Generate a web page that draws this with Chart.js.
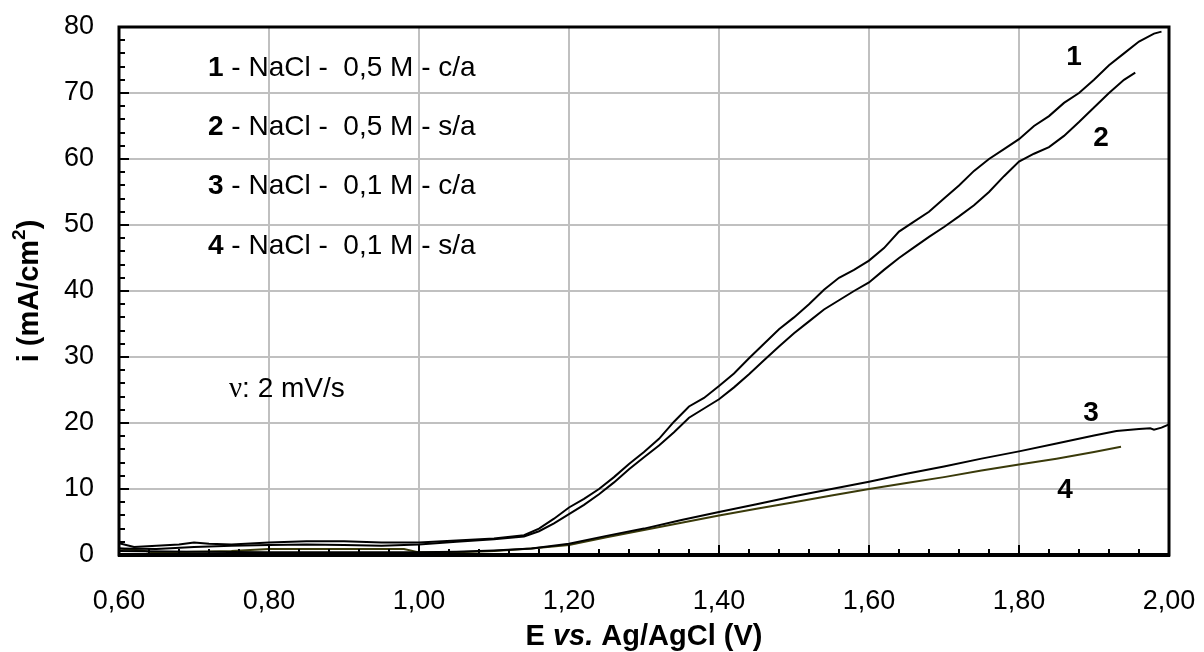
<!DOCTYPE html>
<html>
<head>
<meta charset="utf-8">
<title>Polarization curves - NaCl</title>
<script src="https://cdn.jsdelivr.net/npm/chart.js@4/dist/chart.umd.min.js"></script>
<style>
    html, body { margin: 0; padding: 0; background: #ffffff; }
    #wrap { width: 1204px; height: 652px; }
</style>
</head>
<body>
<div id="wrap"><canvas id="polChart" width="1204" height="652"></canvas></div>
<script>
// Potential (V) and current density (mA/cm2) for each run
const e1 = [0.60, 0.62, 0.65, 0.68, 0.70, 0.72, 0.75, 0.80, 0.85, 0.90, 0.95, 1.00, 1.05, 1.10, 1.14, 1.16, 1.18, 1.20, 1.22, 1.24, 1.26, 1.28, 1.30, 1.32, 1.34, 1.36, 1.38, 1.40, 1.42, 1.44, 1.46, 1.48, 1.50, 1.52, 1.54, 1.56, 1.58, 1.60, 1.62, 1.64, 1.66, 1.68, 1.70, 1.72, 1.74, 1.76, 1.78, 1.80, 1.82, 1.84, 1.86, 1.88, 1.90, 1.92, 1.94, 1.96, 1.98, 1.99];
const i1 = [1.8, 1.2, 1.4, 1.6, 1.9, 1.7, 1.6, 1.9, 2.1, 2.1, 1.9, 1.9, 2.2, 2.5, 3.0, 4.0, 5.5, 7.2, 8.5, 10.0, 11.8, 13.8, 15.6, 17.6, 20.2, 22.5, 23.8, 25.6, 27.5, 29.8, 32.0, 34.2, 36.0, 38.0, 40.2, 42.0, 43.2, 44.6, 46.5, 49.0, 50.5, 52.0, 54.0, 56.0, 58.2, 60.0, 61.5, 63.0, 65.0, 66.5, 68.5, 70.0, 72.0, 74.2, 76.0, 77.8, 79.0, 79.3];

const e2 = [0.60, 0.65, 0.70, 0.75, 0.80, 0.85, 0.90, 0.95, 1.00, 1.05, 1.10, 1.14, 1.16, 1.18, 1.20, 1.22, 1.24, 1.26, 1.28, 1.30, 1.32, 1.34, 1.36, 1.38, 1.40, 1.42, 1.44, 1.46, 1.48, 1.50, 1.52, 1.54, 1.56, 1.58, 1.60, 1.62, 1.64, 1.66, 1.68, 1.70, 1.72, 1.74, 1.76, 1.78, 1.80, 1.82, 1.84, 1.86, 1.88, 1.90, 1.92, 1.94, 1.955];
const i2 = [1.0, 0.9, 1.2, 1.4, 1.5, 1.6, 1.5, 1.4, 1.6, 2.0, 2.4, 2.8, 3.6, 4.8, 6.2, 7.6, 9.2, 11.0, 13.0, 14.8, 16.6, 18.6, 20.8, 22.2, 23.6, 25.4, 27.4, 29.5, 31.6, 33.6, 35.4, 37.2, 38.6, 40.0, 41.3, 43.2, 45.0, 46.6, 48.2, 49.7, 51.3, 53.0, 55.0, 57.4, 59.6, 60.8, 61.8, 63.5, 65.6, 67.8, 70.0, 72.0, 73.1];

const e3 = [0.60, 0.70, 0.80, 0.90, 1.00, 1.05, 1.10, 1.15, 1.20, 1.25, 1.30, 1.35, 1.40, 1.45, 1.50, 1.55, 1.60, 1.65, 1.70, 1.75, 1.80, 1.85, 1.90, 1.93, 1.96, 1.975, 1.98, 1.99, 2.00];
const i3 = [0.6, 0.5, 0.4, 0.4, 0.4, 0.5, 0.7, 1.0, 1.7, 2.9, 4.0, 5.3, 6.5, 7.7, 8.9, 10.0, 11.1, 12.3, 13.4, 14.6, 15.7, 16.9, 18.1, 18.8, 19.1, 19.2, 19.0, 19.3, 19.8];

const e4 = [0.60, 0.63, 0.65, 0.70, 0.75, 0.80, 0.90, 0.98, 1.00, 1.05, 1.10, 1.15, 1.20, 1.25, 1.30, 1.35, 1.40, 1.45, 1.50, 1.55, 1.60, 1.65, 1.70, 1.75, 1.80, 1.85, 1.90, 1.936];
const i4 = [1.0, 0.7, 0.3, 0.5, 0.6, 0.9, 0.9, 0.9, 0.4, 0.4, 0.6, 1.0, 1.5, 2.7, 3.8, 4.9, 6.0, 7.0, 8.0, 9.0, 10.0, 10.9, 11.8, 12.8, 13.7, 14.6, 15.6, 16.4];

// Axis ranges and legend text
const xMin = 0.6, xMax = 2.0, xStep = 0.2;
const yMin = 0, yMax = 80, yStep = 10;
const legendRows = [
    ['1', ' - NaCl -  0,5 M - c/a'],
    ['2', ' - NaCl -  0,5 M - s/a'],
    ['3', ' - NaCl -  0,1 M - c/a'],
    ['4', ' - NaCl -  0,1 M - s/a']
];
const curveTags = ['1', '2', '3', '4'];

const SANS = '"Liberation Sans", Arial, sans-serif';
const SERIF = '"Liberation Serif", "Times New Roman", serif';

function toPoints(xs, ys) {
    return xs.map((x, k) => ({ x: x, y: ys[k] }));
}

function makeSeries(label, xs, ys, color) {
    return {
        label: label,
        data: toPoints(xs, ys),
        borderColor: color,
        borderWidth: 2,
        pointRadius: 0,
        tension: 0,
        fill: false
    };
}

// Draw a run of text pieces with different fonts, left aligned from x
function drawPieces(ctx, pieces, x, y) {
    let cx = x;
    pieces.forEach(p => {
        ctx.font = p.font;
        ctx.fillText(p.text, cx, y + (p.dy || 0));
        cx += ctx.measureText(p.text).width;
    });
    return cx;
}

function piecesWidth(ctx, pieces) {
    let w = 0;
    pieces.forEach(p => {
        ctx.font = p.font;
        w += ctx.measureText(p.text).width;
    });
    return w;
}

// Keep the plot box fixed: no extra room for the edge labels
function fixScale(size) {
    return scale => {
        if (scale.isHorizontal()) {
            scale.height = size;
        } else {
            scale.width = size;
        }
        scale.paddingLeft = 0;
        scale.paddingRight = 0;
        scale.paddingTop = 0;
        scale.paddingBottom = 0;
    };
}

// Frame, inward ticks and all annotation text
const decorations = {
    id: 'decorations',
    afterDraw(chart) {
        const ctx = chart.ctx;
        const area = chart.chartArea;
        const xs = chart.scales.x;
        const ys = chart.scales.y;
        ctx.save();

        // inward ticks on the bottom axis
        ctx.strokeStyle = '#000';
        ctx.lineWidth = 2;
        for (let k = 0; k <= 35; k++) {
            const v = xMin + k * 0.04;
            const px = Math.round(xs.getPixelForValue(v));
            const len = (k % 5 === 0) ? 10 : 6;
            ctx.beginPath();
            ctx.moveTo(px, area.bottom);
            ctx.lineTo(px, area.bottom - len);
            ctx.stroke();
        }
        // inward ticks on the left axis
        for (let k = 0; k <= 40; k++) {
            const v = yMin + k * 2;
            const py = Math.round(ys.getPixelForValue(v));
            const len = (k % 5 === 0) ? 10 : 6;
            ctx.beginPath();
            ctx.moveTo(area.left, py);
            ctx.lineTo(area.left + len, py);
            ctx.stroke();
        }

        // plot frame
        ctx.lineWidth = 3;
        ctx.strokeRect(area.left, area.top, area.right - area.left, area.bottom - area.top);
        ctx.lineWidth = 4;
        ctx.beginPath();
        ctx.moveTo(area.left - 1, area.bottom);
        ctx.lineTo(area.right + 1, area.bottom);
        ctx.stroke();

        ctx.fillStyle = '#000';
        ctx.textBaseline = 'middle';
        ctx.textAlign = 'left';

        // legend block
        const rowY = [68, 127, 186, 246];
        legendRows.forEach((row, k) => {
            drawPieces(ctx, [
                { text: row[0], font: 'bold 28px ' + SANS },
                { text: row[1], font: '28px ' + SANS }
            ], 208, rowY[k]);
        });

        // scan rate note
        drawPieces(ctx, [
            { text: 'ν', font: '29px ' + SERIF },
            { text: ': 2 mV/s', font: '28px ' + SANS }
        ], 229, 389);

        // curve numbers
        const tagPos = [[1074, 57], [1101, 138], [1091, 413], [1065, 490]];
        ctx.font = 'bold 28px ' + SANS;
        ctx.textAlign = 'center';
        curveTags.forEach((t, k) => ctx.fillText(t, tagPos[k][0], tagPos[k][1]));
        ctx.textAlign = 'left';

        // x axis title
        const xTitle = [
            { text: 'E ', font: 'bold 29px ' + SANS },
            { text: 'vs.', font: 'italic bold 29px ' + SANS },
            { text: ' Ag/AgCl (V)', font: 'bold 29px ' + SANS }
        ];
        const cx = (area.left + area.right) / 2;
        drawPieces(ctx, xTitle, cx - piecesWidth(ctx, xTitle) / 2, 637);

        // y axis title, rotated
        const yTitle = [
            { text: 'i (mA/cm', font: 'bold 29px ' + SANS },
            { text: '2', font: 'bold 19px ' + SANS, dy: -10 },
            { text: ')', font: 'bold 29px ' + SANS }
        ];
        ctx.translate(30, (area.top + area.bottom) / 2);
        ctx.rotate(-Math.PI / 2);
        drawPieces(ctx, yTitle, -piecesWidth(ctx, yTitle) / 2, 0);

        ctx.restore();
    }
};

function buildChart() {
    const ctx = document.getElementById('polChart').getContext('2d');
    return new Chart(ctx, {
        type: 'line',
        data: {
            datasets: [
                makeSeries('1', e1, i1, '#000000'),
                makeSeries('2', e2, i2, '#000000'),
                makeSeries('3', e3, i3, '#000000'),
                makeSeries('4', e4, i4, '#3a3a0a')
            ]
        },
        options: {
            responsive: false,
            devicePixelRatio: 1,
            animation: false,
            layout: { padding: { top: 27, right: 35, left: 0, bottom: 0 } },
            plugins: {
                legend: { display: false },
                tooltip: { enabled: false }
            },
            scales: {
                x: {
                    type: 'linear',
                    min: xMin,
                    max: xMax,
                    afterFit: fixScale(97),
                    grid: { color: '#c0c0c0', lineWidth: 2, drawTicks: false },
                    border: { display: false },
                    ticks: {
                        stepSize: xStep,
                        padding: 30,
                        color: '#000',
                        font: { family: SANS, size: 27 },
                        maxRotation: 0,
                        callback: value => value.toFixed(2).replace('.', ',')
                    }
                },
                y: {
                    min: yMin,
                    max: yMax,
                    afterFit: fixScale(119),
                    grid: { color: '#c0c0c0', lineWidth: 2, drawTicks: false },
                    border: { display: false },
                    ticks: {
                        stepSize: yStep,
                        padding: 25,
                        color: '#000',
                        font: { family: SANS, size: 27 }
                    }
                }
            }
        },
        plugins: [decorations]
    });
}

document.addEventListener('DOMContentLoaded', function() {
    buildChart();
});
</script>
</body>
</html>
